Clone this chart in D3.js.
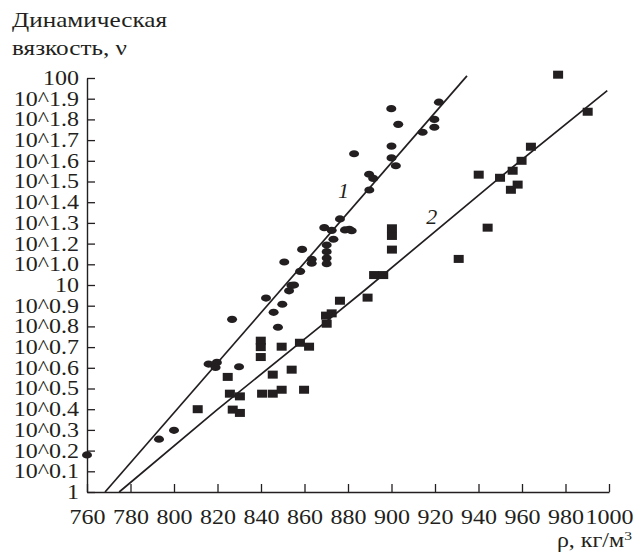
<!DOCTYPE html>
<html>
<head>
<meta charset="utf-8">
<script src="https://cdn.jsdelivr.net/npm/d3@7"></script>
<style>
  body { margin: 0; background: #fff; }
  svg { display: block; }
</style>
</head>
<body>
<script>
// density, kg/m3 and lg of dynamic viscosity
const circleRho = [760.0, 793.1, 800.0, 815.9, 819.7, 819.1, 826.7, 829.9, 842.3, 845.8,
  849.8, 847.8, 852.9, 854.0, 855.2, 850.7, 858.0, 858.9, 863.3, 863.3,
  870.2, 870.2, 870.2, 870.2, 873.3, 869.1, 872.5, 876.3, 878.6, 880.6,
  881.7, 882.8, 889.7, 891.6, 889.8, 900.0, 900.0, 902.0, 899.9, 903.1,
  914.3, 919.7, 919.7, 921.8];
const circleLg = [0.179, 0.255, 0.298, 0.618, 0.626, 0.602, 0.834, 0.605, 0.937, 0.868,
  0.907, 0.796, 0.972, 0.998, 1.0, 1.111, 1.066, 1.172, 1.124, 1.105,
  1.193, 1.161, 1.130, 1.103, 1.221, 1.277, 1.264, 1.319, 1.266, 1.269,
  1.262, 1.634, 1.535, 1.515, 1.459, 1.671, 1.614, 1.576, 1.852, 1.776,
  1.738, 1.80, 1.762, 1.883];

const squareRho = [810.9, 824.7, 825.7, 827.0, 830.3, 830.3, 839.9, 839.9, 839.9, 840.5,
  845.4, 845.4, 849.5, 849.5, 854.1, 857.9, 862.1, 859.8, 869.9, 872.5,
  870.2, 876.3, 889.0, 892.0, 896.2, 900.2, 900.2, 900.2, 930.9, 940.1,
  944.2, 949.9, 954.9, 958.0, 955.7, 959.8, 964.1, 976.6, 990.2];
const squareLg = [0.40, 0.556, 0.475, 0.398, 0.462, 0.382, 0.731, 0.70, 0.652, 0.475,
  0.567, 0.475, 0.702, 0.494, 0.591, 0.721, 0.702, 0.494, 0.852, 0.863,
  0.813, 0.924, 0.939, 1.048, 1.048, 1.171, 1.237, 1.274, 1.126, 1.533,
  1.277, 1.518, 1.46, 1.485, 1.552, 1.60, 1.668, 2.016, 1.837];

// fitted curves
const line1Rho = [768.3, 934.7];
const line1Lg = [0.0, 2.01];
const line2Rho = [774.8, 819.6, 867.1, 887.8, 949.9, 999.2];
const line2Lg = [0.0, 0.396, 0.799, 0.976, 1.520, 1.939];

const curveLabels = ['1', '2'];
const curveLabelRho = [877.9, 918.5];
const curveLabelLg = [1.42, 1.295];

const xTicks = [760, 780, 800, 820, 840, 860, 880, 900, 920, 940, 960, 980, 1000];
const yTickLg = [0, 0.1, 0.2, 0.3, 0.4, 0.5, 0.6, 0.7, 0.8, 0.9, 1.0,
  1.1, 1.2, 1.3, 1.4, 1.5, 1.6, 1.7, 1.8, 1.9, 2.0];
const yTickLabels = ['1', '10^0.1', '10^0.2', '10^0.3', '10^0.4', '10^0.5', '10^0.6',
  '10^0.7', '10^0.8', '10^0.9', '10', '10^1.0', '10^1.2', '10^1.3', '10^1.4',
  '10^1.5', '10^1.6', '10^1.7', '10^1.8', '10^1.9', '100'];

const ink = '#231f20';
const font = '"Liberation Serif", "Times New Roman", serif';
const stretch = 'scale(1.2,1)';

const svg = d3.select('body').append('svg')
  .attr('width', 635)
  .attr('height', 557);

const x = d3.scaleLinear().domain([760, 1000]).range([87, 609]);
const y = d3.scaleLog().domain([1, 100]).range([492, 78]);

const styleAxis = g => {
  g.attr('font-family', font).attr('font-size', 20);
  g.select('.domain').attr('stroke', ink).attr('stroke-width', 1.4);
  g.selectAll('.tick line').attr('stroke', ink).attr('stroke-width', 1.3);
  g.selectAll('.tick text').attr('fill', ink).attr('transform', stretch);
};

svg.append('g')
  .attr('transform', 'translate(0,492)')
  .call(d3.axisBottom(x)
    .tickValues(xTicks)
    .tickFormat(d3.format('d'))
    .tickSize(-8)
    .tickSizeOuter(0)
    .tickPadding(18))
  .call(styleAxis);

svg.append('g')
  .attr('transform', 'translate(87,0)')
  .call(d3.axisLeft(y)
    .tickValues(yTickLg.map(v => Math.pow(10, v)))
    .tickFormat((d, i) => yTickLabels[i])
    .tickSize(-8)
    .tickSizeOuter(0)
    .tickPadding(6.7))
  .call(styleAxis);

// curves
const line = d3.line()
  .x(d => x(d[0]))
  .y(d => y(Math.pow(10, d[1])));

[[line1Rho, line1Lg], [line2Rho, line2Lg]].forEach(([rs, ls]) => {
  svg.append('path')
    .attr('d', line(rs.map((r, i) => [r, ls[i]])))
    .attr('fill', 'none')
    .attr('stroke', ink)
    .attr('stroke-width', 1.7);
});

// markers
svg.append('g').selectAll('ellipse')
  .data(circleRho.map((r, i) => [r, circleLg[i]]))
  .join('ellipse')
  .attr('cx', d => x(d[0]))
  .attr('cy', d => y(Math.pow(10, d[1])))
  .attr('rx', 5)
  .attr('ry', 3.6)
  .attr('fill', ink);

svg.append('g').selectAll('rect')
  .data(squareRho.map((r, i) => [r, squareLg[i]]))
  .join('rect')
  .attr('x', d => x(d[0]) - 5)
  .attr('y', d => y(Math.pow(10, d[1])) - 4)
  .attr('width', 10)
  .attr('height', 8)
  .attr('fill', ink);

svg.append('g').selectAll('text')
  .data(curveLabels)
  .join('text')
  .attr('x', (d, i) => x(curveLabelRho[i]))
  .attr('y', (d, i) => y(Math.pow(10, curveLabelLg[i])))
  .attr('text-anchor', 'middle')
  .attr('font-family', font)
  .attr('font-style', 'italic')
  .attr('font-size', 22)
  .attr('fill', ink)
  .text(d => d);

// axis titles
const title = (tx, ty, anchor, size) => svg.append('g')
  .attr('transform', `translate(${tx},${ty}) ${stretch}`)
  .append('text')
  .attr('text-anchor', anchor)
  .attr('font-family', font)
  .attr('font-size', size)
  .attr('fill', ink);

title(12, 27, 'start', 21).text('Динамическая');
title(12, 55, 'start', 21).text('вязкость, ν');

const xt = title(632, 547, 'end', 20);
xt.append('tspan').text('ρ, кг/м');
xt.append('tspan').attr('font-size', 13).attr('dy', -7).text('3');
</script>
</body>
</html>
